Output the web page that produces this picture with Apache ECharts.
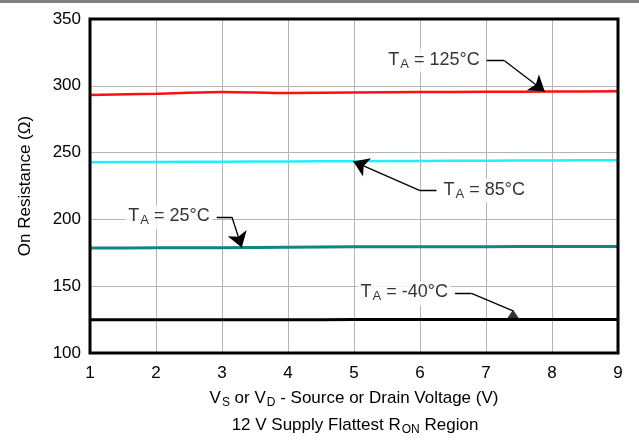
<!DOCTYPE html>
<html>
<head>
<meta charset="utf-8">
<script src="https://cdn.jsdelivr.net/npm/echarts@6/dist/echarts.min.js"></script>
<style>html,body{margin:0;padding:0;background:#fff}#c{width:639px;height:443px}</style>
</head>
<body>
<div id="c"></div>
<script>
// Data
var xVals = [1, 2, 3, 4, 5, 6, 7, 8, 9];
var r125 = [293.2, 294.0, 295.4, 294.6, 295.0, 295.3, 295.5, 295.7, 295.9];
var r85  = [242.8, 243.0, 243.2, 243.4, 243.6, 243.8, 243.9, 244.1, 244.3];
var r25  = [178.6, 178.7, 178.8, 179.2, 179.5, 179.5, 179.6, 179.7, 179.8];
var rm40 = [124.9, 124.9, 124.9, 124.9, 125.0, 125.0, 125.0, 125.0, 125.1];
var yTicks = [100, 150, 200, 250, 300, 350];
var xTicks = [1, 2, 3, 4, 5, 6, 7, 8, 9];

// Annotation leader paths (data coordinates): label anchor, elbow, arrow tip
var ann125 = [[7.01, 318.8], [7.28, 318.8], [7.89, 295.8]];
var ann85  = [[6.25, 221.5], [6.0, 221.5], [4.99, 243.4]];
var ann25  = [[2.92, 201.8], [3.15, 201.8], [3.30, 179.0]];
var annM40 = [[6.53, 144.7], [6.78, 144.7], [7.41, 131.5]];
var annM40Head = [7.41, 128.2];
var annLabels = ['125', '85', '25', '-40'];

function pairs(a) { return xVals.map(function (x, i) { return [x, a[i]]; }); }

var rich = {
  t: { fontSize: 18, fontFamily: 'Liberation Sans', color: '#000' },
  s: { fontSize: 13, fontFamily: 'Liberation Sans', color: '#000', padding: [9, 0, 0, 1] }
};
function annText(v) { return '{t|T}{s|A}{t| = ' + v + '°C}'; }

function labelSeries(pt, v, side) {
  return {
    type: 'scatter', symbolSize: 2, symbol: 'circle',
    itemStyle: { color: 'rgba(0,0,0,0)' },
    z: 20, silent: true,
    data: [pt],
    label: {
      show: true, position: side, distance: 3,
      formatter: annText(v), rich: rich,
      backgroundColor: '#fff', padding: [0, 3, 2, 3]
    }
  };
}

function leader(path, arrow) {
  return {
    type: 'lines', coordinateSystem: 'cartesian2d', z: 15, silent: true,
    symbol: ['none', 'none'],
    lineStyle: { color: '#000', width: 1.3, opacity: 1 },
    data: [
      { coords: [path[0], path[1]] },
      { coords: [path[1], path[2]], symbol: ['none', arrow ? 'arrow' : 'none'], symbolSize: 15 }
    ]
  };
}

var subRich = { s: { fontSize: 12, fontFamily: 'Liberation Sans', color: '#000', padding: [9, 0, 0, 1] } };

var chart = echarts.init(document.getElementById('c'));
chart.setOption({
  animation: false,
  backgroundColor: '#fff',
  graphic: [{ type: 'rect', shape: { x: 0, y: 0, width: 639, height: 3 }, style: { fill: '#808080' } }],
  title: {
    text: '12 V Supply Flattest R{s|ON} Region',
    left: 350, textAlign: 'center', top: 410,
    textStyle: { fontSize: 17, fontWeight: 'normal', fontFamily: 'Liberation Sans', color: '#000', rich: subRich }
  },
  grid: { left: 90, right: 21, top: 19, bottom: 90, show: true, borderColor: '#000', borderWidth: 3, backgroundColor: 'transparent', z: 30 },
  xAxis: {
    type: 'value', min: 1, max: 9, interval: 1,
    name: 'V{s|S} or V{s|D} - Source or Drain Voltage (V)',
    nameLocation: 'middle', nameGap: 35,
    nameTextStyle: { fontSize: 17, fontFamily: 'Liberation Sans', color: '#000', rich: subRich },
    axisLine: { show: false }, axisTick: { show: false },
    axisLabel: { fontSize: 17, fontFamily: 'Liberation Sans', color: '#000', margin: 12,
      formatter: function (v) { return xTicks.indexOf(v) >= 0 ? String(v) : ''; } },
    splitLine: { show: true, lineStyle: { color: '#b4b4b4', width: 1 } }
  },
  yAxis: {
    type: 'value', min: 100, max: 350, interval: 50,
    name: 'On Resistance (Ω)', nameLocation: 'middle', nameGap: 56,
    nameTextStyle: { fontSize: 17, fontFamily: 'Liberation Sans', color: '#000' },
    axisLine: { show: false }, axisTick: { show: false },
    axisLabel: { fontSize: 17, fontFamily: 'Liberation Sans', color: '#000', margin: 9,
      formatter: function (v) { return yTicks.indexOf(v) >= 0 ? String(v) : ''; } },
    splitLine: { show: true, lineStyle: { color: '#b4b4b4', width: 1 } }
  },
  series: [
    { type: 'line', data: pairs(r125), showSymbol: false, smooth: 0.3, lineStyle: { color: '#ff1010', width: 2.5 }, z: 5 },
    { type: 'line', data: pairs(r85), showSymbol: false, smooth: 0.3, lineStyle: { color: '#22eeff', width: 2.5 }, z: 5 },
    { type: 'line', data: pairs(r25), showSymbol: false, smooth: 0.3, lineStyle: { color: '#128484', width: 3 }, z: 5 },
    { type: 'line', data: pairs(rm40), showSymbol: false, smooth: 0.3, lineStyle: { color: '#000', width: 3 }, z: 5 },
    leader(ann125, true),
    leader(ann85, true),
    leader(ann25, true),
    leader(annM40, false),
    { type: 'scatter', data: [annM40Head], symbol: 'triangle', symbolSize: [15, 11], itemStyle: { color: '#000' }, z: 16, silent: true },
    labelSeries(ann125[0], annLabels[0], 'left'),
    labelSeries(ann85[0], annLabels[1], 'right'),
    labelSeries(ann25[0], annLabels[2], 'left'),
    labelSeries(annM40[0], annLabels[3], 'left')
  ]
});
</script>
</body>
</html>
